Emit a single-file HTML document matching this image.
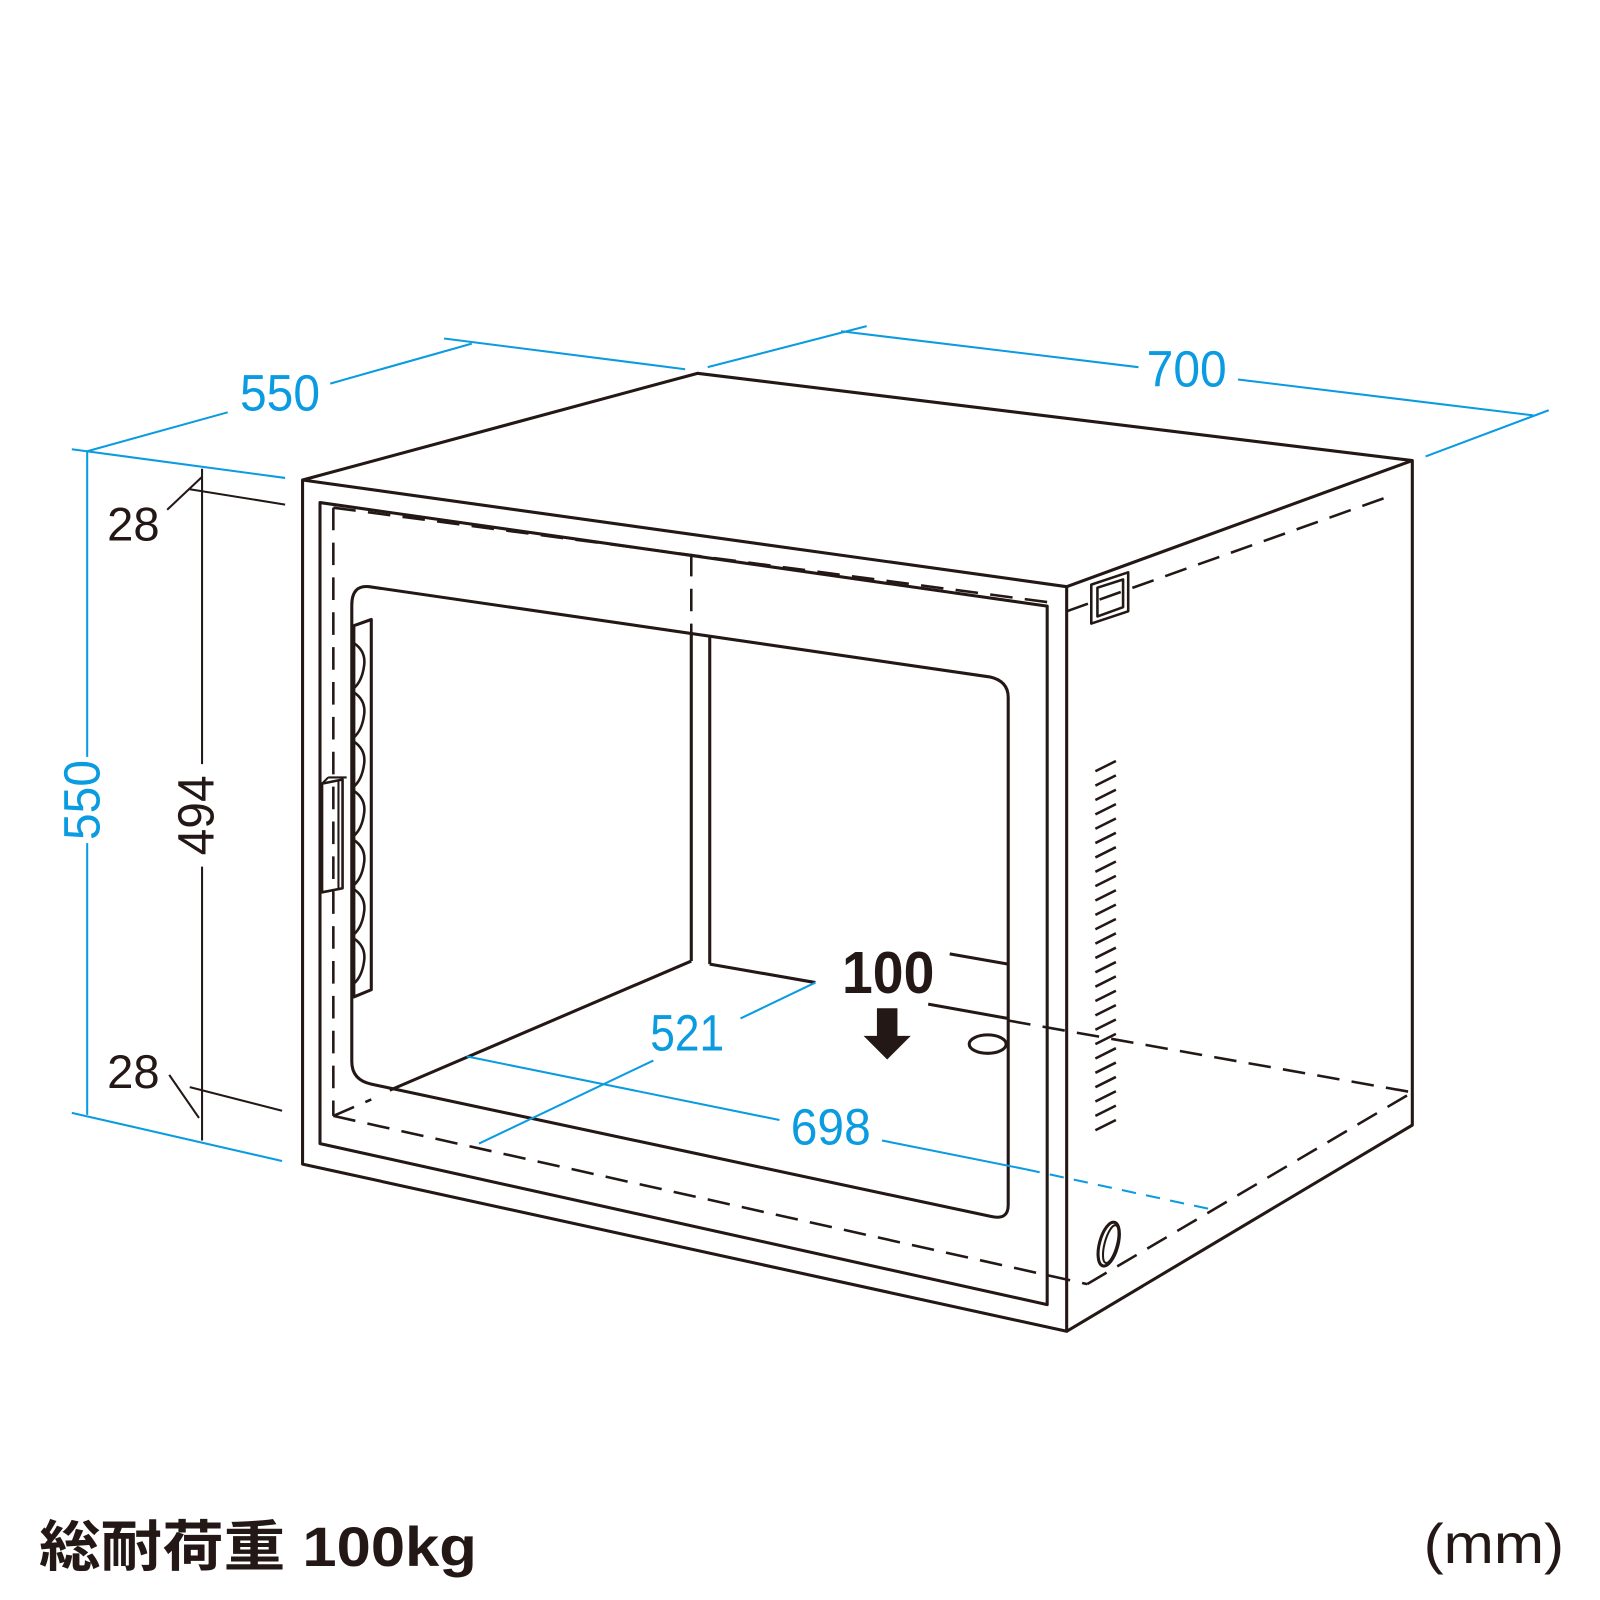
<!DOCTYPE html>
<html><head><meta charset="utf-8"><style>html,body{margin:0;padding:0;background:#fff}svg{display:block}</style></head>
<body>
<svg width="1600" height="1600" viewBox="0 0 1560 1560" xmlns="http://www.w3.org/2000/svg">
<g fill="none" stroke="#231815" stroke-width="3" stroke-linejoin="round">
<polygon points="295,468 1040,572 1040,1298 295,1135"/>
<polyline points="295,468 680,364 1377,449 1377,1097 1040,1298"/>
<line x1="1040" y1="572" x2="1377" y2="449"/>
<polygon points="312,490 1021,591 1021,1272 312,1115"/>
<path d="M343,590 Q343,570 360,572 L965,660 Q983,664 983,680 L983,1175 Q983,1190 966,1186 L362,1057 Q343,1053 343,1035 Z"/>
<line x1="674" y1="618" x2="674" y2="937"/>
<line x1="692" y1="621" x2="692" y2="940"/>
<line x1="674" y1="937" x2="380" y2="1063"/>
<line x1="692" y1="940" x2="795" y2="958"/>
<line x1="905" y1="979" x2="983" y2="993"/>
<line x1="926" y1="930" x2="983" y2="940"/>
<polygon points="345,610 362,604 362,965 345,972"/>
<path d="M345,627 q12,8 10,22 q-2,15 -10,22 M345,675 q12,8 10,22 q-2,15 -10,22 M345,723 q12,8 10,22 q-2,15 -10,22 M345,771 q12,8 10,22 q-2,15 -10,22 M345,819 q12,8 10,22 q-2,15 -10,22 M345,867 q12,8 10,22 q-2,15 -10,22 M345,915 q12,8 10,22 q-2,15 -10,22" stroke-width="2.5"/>
<polygon points="314,764 334,760 334,866 314,870" stroke-width="2.5"/>
<line x1="330" y1="762" x2="330" y2="868" stroke-width="2"/>
<line x1="314" y1="764" x2="320" y2="758" stroke-width="2"/><line x1="320" y1="758" x2="338" y2="758" stroke-width="2"/>
<polygon points="1064,570 1100,558 1100,596 1064,608" stroke-width="2.5"/>
<polygon points="1070,573 1095,565 1095,592 1070,601" stroke-width="2.5"/>
<ellipse cx="1081" cy="1213" rx="9" ry="22" transform="rotate(15 1081 1213)"/>
<ellipse cx="1083" cy="1213" rx="6" ry="19" transform="rotate(15 1083 1213)" stroke-width="2"/>
<ellipse cx="963" cy="1018" rx="18" ry="9"/>
</g>
<g fill="none" stroke="#231815" stroke-width="2.5" stroke-dasharray="22,12">
<line x1="325" y1="495" x2="1021" y2="587"/>
<line x1="325" y1="495" x2="325" y2="1088"/>
<line x1="325" y1="1088" x2="1060" y2="1252"/>
<line x1="325" y1="1088" x2="362" y2="1072"/>
<line x1="1060" y1="1252" x2="1377" y2="1065"/>
<line x1="983" y1="995" x2="1377" y2="1065"/>
<line x1="1040" y1="596" x2="1360" y2="482"/>
<line x1="674" y1="540" x2="674" y2="618"/>
</g>
<g stroke="#231815" stroke-width="2.5">
<path d="M1068,752 l20,-10 M1068,766 l20,-10 M1068,780 l20,-10 M1068,794 l20,-10 M1068,808 l20,-10 M1068,822 l20,-10 M1068,836 l20,-10 M1068,850 l20,-10 M1068,864 l20,-10 M1068,878 l20,-10 M1068,892 l20,-10 M1068,906 l20,-10 M1068,920 l20,-10 M1068,934 l20,-10 M1068,948 l20,-10 M1068,962 l20,-10 M1068,976 l20,-10 M1068,990 l20,-10 M1068,1004 l20,-10 M1068,1018 l20,-10 M1068,1032 l20,-10 M1068,1046 l20,-10 M1068,1060 l20,-10 M1068,1074 l20,-10 M1068,1088 l20,-10 M1068,1102 l20,-10"/>
</g>
<polygon points="855,983 875,983 875,1010 888,1010 865,1033 842,1010 855,1010" fill="#231815"/>
<g stroke="#0a9be0" stroke-width="2" fill="none">
<line x1="70" y1="438" x2="278" y2="466"/>
<line x1="433" y1="330" x2="668" y2="360"/>
<line x1="85" y1="440" x2="222" y2="402"/>
<line x1="322" y1="374" x2="460" y2="335"/>
<line x1="690" y1="358" x2="845" y2="318"/>
<line x1="820" y1="323" x2="1110" y2="358"/>
<line x1="1207" y1="370" x2="1495" y2="405"/>
<line x1="1390" y1="445" x2="1510" y2="400"/>
<line x1="85" y1="440" x2="85" y2="738"/>
<line x1="85" y1="822" x2="85" y2="1087"/>
<line x1="70" y1="1085" x2="275" y2="1132"/>
<line x1="455" y1="1030" x2="760" y2="1092"/>
<line x1="860" y1="1112" x2="1000" y2="1140"/>
<line x1="1000" y1="1140" x2="1185" y2="1180" stroke-dasharray="14,10"/>
<line x1="467" y1="1115" x2="637" y2="1034"/>
<line x1="722" y1="993" x2="795" y2="958"/>
</g>
<g stroke="#231815" stroke-width="2" fill="none">
<line x1="197" y1="457" x2="197" y2="745"/>
<line x1="197" y1="845" x2="197" y2="1112"/>
<line x1="185" y1="477" x2="278" y2="492"/>
<line x1="185" y1="1060" x2="275" y2="1083"/>
<line x1="163" y1="497" x2="197" y2="465"/>
<line x1="165" y1="1048" x2="194" y2="1090"/>
</g>
<g font-family="Liberation Sans, sans-serif" fill="#0a9be0" font-size="50">
<text x="273" y="400" text-anchor="middle" textLength="78" lengthAdjust="spacingAndGlyphs">550</text>
<text x="1157" y="377" text-anchor="middle" textLength="78" lengthAdjust="spacingAndGlyphs">700</text>
<text x="810" y="1116" text-anchor="middle" textLength="78" lengthAdjust="spacingAndGlyphs">698</text>
<text x="670" y="1024" text-anchor="middle" textLength="72" lengthAdjust="spacingAndGlyphs">521</text>
<text x="0" y="0" text-anchor="middle" transform="translate(97,780) rotate(-90)" textLength="78" lengthAdjust="spacingAndGlyphs">550</text>
</g>
<g font-family="Liberation Sans, sans-serif" fill="#231815" font-size="46">
<text x="130" y="527" text-anchor="middle">28</text>
<text x="130" y="1061" text-anchor="middle">28</text>
<text x="0" y="0" text-anchor="middle" font-size="50" transform="translate(208,795) rotate(-90)" textLength="78" lengthAdjust="spacingAndGlyphs">494</text>
<text x="866" y="968" text-anchor="middle" font-size="58" font-weight="bold" textLength="90" lengthAdjust="spacingAndGlyphs">100</text>
<text x="38" y="1527" font-size="54" font-weight="bold" font-family="Liberation Sans, Noto Sans CJK JP, sans-serif" textLength="427" lengthAdjust="spacingAndGlyphs">総耐荷重 100kg</text>
<text x="1388" y="1524" font-size="54" textLength="137" lengthAdjust="spacingAndGlyphs">(mm)</text>
</g>
</svg>
</body></html>
